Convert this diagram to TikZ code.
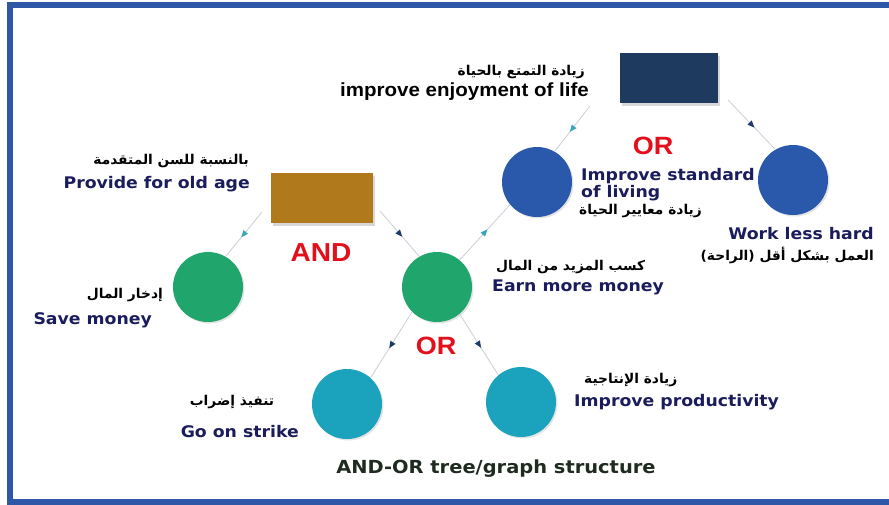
\documentclass[tikz,border=0pt]{standalone}
\usepackage{fontspec}
\setmainfont{DejaVu Sans}
\newfontfamily\lblfont[FakeStretch=1.08]{DejaVu Sans}
\newfontfamily\arfont[Script=Arabic,FakeStretch=1.02]{DejaVu Sans}
\newfontfamily\arialf[FakeStretch=1.08]{Liberation Sans}
\TeXXeTstate=1
\usetikzlibrary{shadows,decorations.markings}
\definecolor{framebl}{HTML}{2F57A8}
\definecolor{navyrect}{HTML}{1F3A5F}
\definecolor{brownrect}{HTML}{B07A1C}
\definecolor{bluec}{HTML}{2A58AA}
\definecolor{greenc}{HTML}{20A56C}
\definecolor{tealc}{HTML}{1BA2BD}
\definecolor{lbl}{HTML}{1B1C5C}
\definecolor{redt}{HTML}{E3101C}
\definecolor{linec}{HTML}{C9CFD8}
\definecolor{tipteal}{HTML}{3AA5B8}
\definecolor{tipnavy}{HTML}{1F3A6B}
\definecolor{captc}{HTML}{1F2B20}
\tikzset{
  goal/.style={circle, minimum size=70pt, inner sep=0pt, draw=none,
    drop shadow={opacity=0.22, shadow xshift=1.5pt, shadow yshift=-1.5pt}},
  goalbox/.style={rectangle, inner sep=0pt, minimum height=50pt,
    drop shadow={opacity=0.3, shadow xshift=2pt, shadow yshift=-2.5pt}},
  entxt/.style={inner sep=0pt, text=lbl, font=\lblfont\bfseries\fontsize{16}{19}\selectfont},
  artxt/.style={inner sep=0pt, text=black, font=\arfont\bfseries\fontsize{13.5}{16}\selectfont},
  optxt/.style={inner sep=0pt, text=redt, font=\arialf\bfseries\fontsize{25}{28}\selectfont},
  conn/.style={draw=linec, line width=0.8pt},
  tipT/.style={postaction={decorate}, decoration={markings, mark=at position 0.5 with {\fill[tipteal] (4pt,0pt) -- (-3pt,3pt) -- (-3pt,-3pt) -- cycle;}}},
  tipN/.style={postaction={decorate}, decoration={markings, mark=at position 0.5 with {\fill[tipnavy] (4pt,0pt) -- (-3pt,3pt) -- (-3pt,-3pt) -- cycle;}}}
}
\begin{document}
\begin{tikzpicture}[x=1pt, y=-1pt]
\useasboundingbox (0,0) rectangle (889,504);
\fill[white] (0,0) rectangle (889,504);
% frame
\draw[framebl, line width=6pt] (889,4.5) -- (10,4.5) -- (10,501.5) -- (889,501.5);

% goal boxes
\node[goalbox, fill=navyrect, minimum width=98pt] (enjoy) at (669,78) {};
\node[goalbox, fill=brownrect, minimum width=102pt] (oldage) at (322,198) {};

% circles
\node[goal, fill=bluec] (std) at (537,182) {};
\node[goal, fill=bluec] (work) at (793,180) {};
\node[goal, fill=greenc] (save) at (208,287) {};
\node[goal, fill=greenc] (earn) at (437,287) {};
\node[goal, fill=tealc] (strike) at (347,404) {};
\node[goal, fill=tealc] (prod) at (521,402) {};

% connector free ends near the boxes
\coordinate (e1) at (590,106);
\coordinate (e2) at (728,100);
\coordinate (o1) at (262,212);
\coordinate (o2) at (380,211);

\draw[conn, tipT] (e1) -- (std.60);
\draw[conn, tipN] (e2) -- (work.120);
\draw[conn, tipT] (o1) -- (save.60);
\draw[conn, tipN] (o2) -- (earn.120);
\draw[conn, tipT] (earn.50) -- (std.220);
\draw[conn, tipN] (earn.225) -- (strike.48);
\draw[conn, tipN] (earn.-50) -- (prod.130);

% texts
\node[artxt, anchor=east] (tEnjoyAr) at (585,72) {\beginR زيادة التمتع بالحياة\endR};
\node[inner sep=0pt, anchor=east, text=black, font=\arialf\bfseries\fontsize{19}{22}\selectfont] (tEnjoy) at (589,92) {improve enjoyment of life};
\node[optxt] (or1) at (653,146) {OR};

\node[entxt, anchor=west] (tStd1) at (581,176) {Improve standard};
\node[entxt, anchor=west] (tStd2) at (581,193) {of living};
\node[artxt, anchor=west] (tStdAr) at (579,211) {\beginR زيادة معايير الحياة\endR};

\node[entxt, anchor=east] (tWork) at (874,234) {Work less hard};
\node[artxt, anchor=east] (tWorkAr) at (874,255) {\beginR العمل بشكل أقل (الراحة)\endR};

\node[artxt, anchor=east] (tOldAr) at (249,161) {\beginR بالنسبة للسن المتقدمة\endR};
\node[entxt, anchor=east] (tOld) at (250,184) {Provide for old age};
\node[optxt, font=\arialf\bfseries\fontsize{26}{29}\selectfont] (and) at (321,253) {AND};

\node[artxt, anchor=east] (tSaveAr) at (163,295) {\beginR إدخار المال\endR};
\node[entxt, anchor=east] (tSave) at (152,320) {Save money};

\node[artxt, anchor=west] (tEarnAr) at (496,267) {\beginR كسب المزيد من المال\endR};
\node[entxt, anchor=west] (tEarn) at (492,287) {Earn more money};

\node[optxt] (or2) at (436,346) {OR};

\node[artxt] (tStrikeAr) at (232,402) {\beginR تنفيذ إضراب\endR};
\node[entxt, anchor=east] (tStrike) at (299,432) {Go on strike};

\node[artxt, anchor=west] (tProdAr) at (584,380) {\beginR زيادة الإنتاجية\endR};
\node[entxt, anchor=west] (tProd) at (574,402) {Improve productivity};

\node[inner sep=0pt, text=captc, font=\lblfont\bfseries\fontsize{18}{21}\selectfont] (cap) at (496,469) {AND-OR tree/graph structure};
\end{tikzpicture}
\end{document}
